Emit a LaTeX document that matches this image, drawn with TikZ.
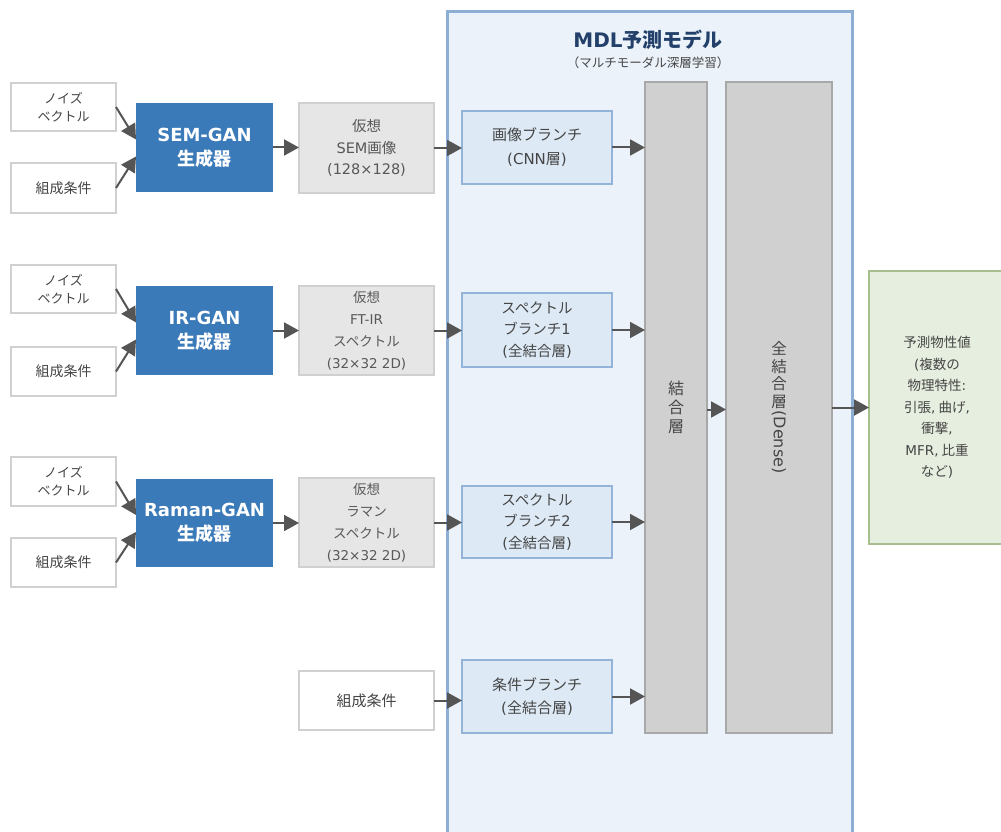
\documentclass[tikz,border=0pt]{standalone}
\usepackage{fontspec}
\usepackage{graphicx}
\setmainfont{Noto Sans CJK JP}
\newfontfamily\lat{DejaVu Sans}
\usetikzlibrary{arrows.meta}
\definecolor{ganblue}{HTML}{3B7AB8}
\definecolor{lightborder}{HTML}{D0D0D0}
\definecolor{virtfill}{HTML}{E6E6E6}
\definecolor{contfill}{HTML}{EBF2FA}
\definecolor{contborder}{HTML}{8EAFD5}
\definecolor{brfill}{HTML}{DDE9F5}
\definecolor{brborder}{HTML}{93B3D9}
\definecolor{tallfill}{HTML}{D0D0D0}
\definecolor{tallborder}{HTML}{A8A8A8}
\definecolor{outfill}{HTML}{E6EEDF}
\definecolor{outborder}{HTML}{A9BE8F}
\definecolor{arrowgray}{HTML}{555555}
\definecolor{txtgray}{HTML}{454545}
\definecolor{titleblue}{HTML}{22406A}
\begin{document}
\begin{tikzpicture}[x=1pt,y=-1pt,
  box/.style={inner sep=0pt, outer sep=0pt, align=center, text=txtgray},
  inbox/.style={box, draw=lightborder, line width=2.5pt, fill=white, font=\fontsize{13}{18}\selectfont},
  condbox/.style={inbox, font=\fontsize{14}{18}\selectfont},
  ganbox/.style={box, fill=ganblue, text=white, font=\fontsize{18}{24}\selectfont\bfseries},
  virtbox/.style={box, draw=lightborder, line width=2.5pt, fill=virtfill, text=txtgray!90, font=\fontsize{14.5}{21.5}\selectfont},
  virtboxb/.style={virtbox, font=\fontsize{13.5}{22}\selectfont},
  brbox/.style={box, draw=brborder, line width=2pt, fill=brfill, font=\fontsize{15}{24}\selectfont},
  brboxb/.style={brbox, font=\fontsize{14.5}{21.5}\selectfont},
  tallbox/.style={box, draw=tallborder, line width=2.5pt, fill=tallfill, font=\fontsize{16}{19}\selectfont},
  outbox/.style={box, draw=outborder, line width=2.5pt, fill=outfill, font=\fontsize{13.5}{21.5}\selectfont},
  arr/.style={draw=arrowgray, line width=2pt, -{Triangle[length=15pt,width=16pt]}, arrowgray}
]
\useasboundingbox (0,0) rectangle (1001,832);
\fill[white] (0,0) rectangle (1001,832);

% container
\draw[contborder, line width=3pt, fill=contfill] (447,12) rectangle (852,845);
\node[text=titleblue, font=\fontsize{20}{22}\selectfont\bfseries] (title) at (648,40) {{\lat MDL}予測モデル};
\node[text=txtgray, font=\fontsize{12.5}{14}\selectfont] (subtitle) at (648,63) {（マルチモーダル深層学習）};

% row 1
\node[inbox, minimum width=105, minimum height=48] (n1) at (63.5,107) {ノイズ\\ベクトル};
\node[condbox, minimum width=105, minimum height=50] (c1) at (63.5,188) {組成条件};
\node[ganbox, minimum width=137, minimum height=89] (g1) at (204.5,147.5) {{\lat SEM-GAN}\\生成器};
\node[virtbox, minimum width=135, minimum height=90] (v1) at (366.5,148) {仮想\\{\lat SEM}画像\\{\lat (128×128)}};
\node[brbox, minimum width=150, minimum height=73] (b1) at (537,147.5) {画像ブランチ\\{\lat (CNN}層{\lat )}};

% row 2
\node[inbox, minimum width=105, minimum height=48] (n2) at (63.5,289) {ノイズ\\ベクトル};
\node[condbox, minimum width=105, minimum height=49] (c2) at (63.5,371.5) {組成条件};
\node[ganbox, minimum width=137, minimum height=89] (g2) at (204.5,330.5) {{\lat IR-GAN}\\生成器};
\node[virtboxb, minimum width=135, minimum height=89] (v2) at (366.5,330.5) {仮想\\{\lat FT-IR}\\スペクトル\\{\lat (32×32 2D)}};
\node[brboxb, minimum width=150, minimum height=74] (b2) at (537,330) {スペクトル\\ブランチ{\lat 1}\\{\lat (}全結合層{\lat )}};

% row 3
\node[inbox, minimum width=105, minimum height=49] (n3) at (63.5,481.5) {ノイズ\\ベクトル};
\node[condbox, minimum width=105, minimum height=49] (c3) at (63.5,562.5) {組成条件};
\node[ganbox, minimum width=137, minimum height=88] (g3) at (204.5,523) {{\lat Raman-GAN}\\生成器};
\node[virtboxb, minimum width=135, minimum height=89] (v3) at (366.5,522.5) {仮想\\ラマン\\スペクトル\\{\lat (32×32 2D)}};
\node[brboxb, minimum width=150, minimum height=72] (b3) at (537,522) {スペクトル\\ブランチ{\lat 2}\\{\lat (}全結合層{\lat )}};

% row 4
\node[condbox, minimum width=135, minimum height=59, font=\fontsize{15}{18}\selectfont] (c4) at (366.5,700.5) {組成条件};
\node[brbox, minimum width=150, minimum height=73, font=\fontsize{15}{23}\selectfont] (b4) at (537,696.5) {条件ブランチ\\{\lat (}全結合層{\lat )}};

% tall boxes
\node[tallbox, minimum width=62, minimum height=651] (cat) at (676,407.5) {結\\合\\層};
\node[tallbox, minimum width=106, minimum height=651, font=\fontsize{15.5}{17.5}\selectfont] (dense) at (779,407.5) {全\\結\\合\\層\\[-14pt]\rotatebox{-90}{\lat\fontsize{16}{18}\selectfont (Dense)}};

% output
\node[outbox, minimum width=136, minimum height=273] (out) at (937,407.5) {予測物性値\\{\lat (}複数の\\物理特性{\lat :}\\引張{\lat ,} 曲げ{\lat ,}\\衝撃{\lat ,}\\{\lat MFR,} 比重\\など{\lat )}};

% arrows: inputs to GANs
\draw[arr] (n1.east) -- ([yshift=8pt]g1.west);
\draw[arr] (c1.east) -- ([yshift=-9pt]g1.west);
\draw[arr] (n2.east) -- ([yshift=8pt]g2.west);
\draw[arr] (c2.east) -- ([yshift=-9pt]g2.west);
\draw[arr] (n3.east) -- ([yshift=8pt]g3.west);
\draw[arr] (c3.east) -- ([yshift=-9pt]g3.west);

% GAN to virtual
\draw[arr] (g1.east) -- (g1.east -| v1.west);
\draw[arr] (g2.east) -- (g2.east -| v2.west);
\draw[arr] (g3.east) -- (g3.east -| v3.west);

% virtual to branches
\draw[arr] (v1.east) -- (v1.east -| b1.west);
\draw[arr] (v2.east) -- (v2.east -| b2.west);
\draw[arr] (v3.east) -- (v3.east -| b3.west);
\draw[arr] (c4.east) -- (c4.east -| b4.west);

% branches to concat
\draw[arr] (b1.east) -- (b1.east -| cat.west);
\draw[arr] (b2.east) -- (b2.east -| cat.west);
\draw[arr] (b3.east) -- (b3.east -| cat.west);
\draw[arr] (b4.east) -- (b4.east -| cat.west);

% concat to dense to output
\draw[arr] ([yshift=-2pt]cat.east) -- ([yshift=-2pt]dense.west);
\draw[arr] (dense.east) -- (dense.east -| out.west);
\end{tikzpicture}
\end{document}
